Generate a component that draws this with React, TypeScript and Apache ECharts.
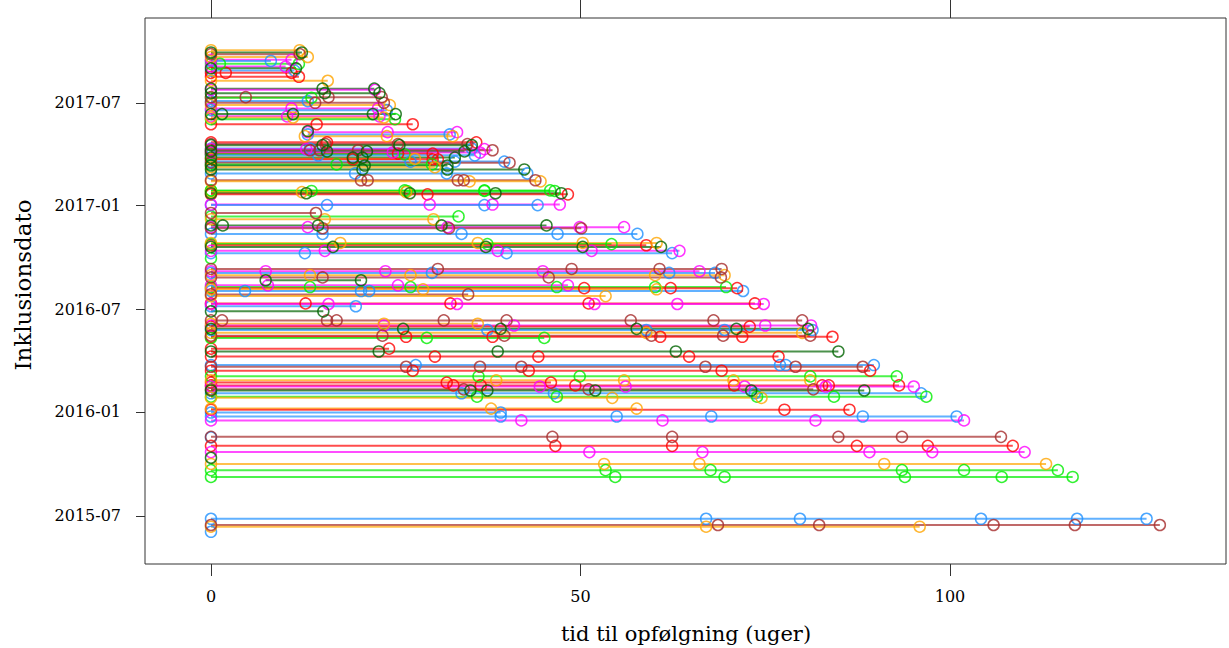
import React, { useEffect, useRef } from "react";
import * as echarts from "echarts";

// Inclusion date of each patient (y), colour group, and follow-up times in weeks (x)
const inclusionDates: string[] = [
  "2017-10-02", "2017-09-28", "2017-09-25", "2017-09-20", "2017-09-15", "2017-09-13", "2017-09-08", "2017-09-03",
  "2017-08-31", "2017-08-27", "2017-08-23", "2017-08-16", "2017-08-09", "2017-07-26", "2017-07-24", "2017-07-18",
  "2017-07-11", "2017-07-10", "2017-07-04", "2017-07-01", "2017-06-27", "2017-06-21", "2017-06-18", "2017-06-11",
  "2017-06-07", "2017-06-05", "2017-06-02", "2017-05-24", "2017-05-12", "2017-05-10", "2017-05-06", "2017-05-03",
  "2017-04-22", "2017-04-19", "2017-04-17", "2017-04-11", "2017-04-10", "2017-04-08", "2017-04-06", "2017-04-04",
  "2017-04-02", "2017-04-01", "2017-03-30", "2017-03-26", "2017-03-24", "2017-03-23", "2017-03-19", "2017-03-17",
  "2017-03-14", "2017-03-12", "2017-03-09", "2017-03-05", "2017-02-26", "2017-02-14", "2017-02-12", "2017-01-27",
  "2017-01-26", "2017-01-24", "2017-01-22", "2017-01-20", "2017-01-02", "2017-01-01", "2016-12-18", "2016-12-12",
  "2016-12-07", "2016-11-26", "2016-11-23", "2016-11-21", "2016-11-11", "2016-10-26", "2016-10-24", "2016-10-22",
  "2016-10-19", "2016-10-12", "2016-10-08", "2016-09-29", "2016-09-10", "2016-09-06", "2016-09-03", "2016-08-30",
  "2016-08-26", "2016-08-21", "2016-08-12", "2016-08-09", "2016-08-07", "2016-08-05", "2016-08-02", "2016-07-27",
  "2016-07-24", "2016-07-11", "2016-07-10", "2016-07-06", "2016-06-27", "2016-06-11", "2016-06-05", "2016-06-02",
  "2016-05-31", "2016-05-27", "2016-05-25", "2016-05-20", "2016-05-15", "2016-05-13", "2016-05-11", "2016-04-22",
  "2016-04-17", "2016-04-08", "2016-03-24", "2016-03-21", "2016-03-14", "2016-03-04", "2016-02-26", "2016-02-22",
  "2016-02-17", "2016-02-15", "2016-02-10", "2016-02-08", "2016-02-03", "2016-01-28", "2016-01-26", "2016-01-07",
  "2016-01-05", "2015-12-31", "2015-12-24", "2015-12-17", "2015-11-18", "2015-11-17", "2015-11-02", "2015-10-22",
  "2015-10-12", "2015-10-01", "2015-09-20", "2015-09-08", "2015-06-26", "2015-06-15", "2015-06-12", "2015-06-03",
];

const patientGroup: string[] = [
  "O", "DG", "BR", "O", "M", "B", "G", "M",
  "DG", "B", "R", "R", "O", "DG", "M", "DG",
  "BR", "G", "B", "BR", "O", "M", "B", "DG",
  "M", "O", "G", "R", "DG", "M", "B", "O",
  "R", "BR", "DG", "B", "M", "BR", "DG", "M",
  "R", "G", "B", "DG", "O", "R", "B", "BR",
  "G", "DG", "O", "DG", "B", "BR", "O", "G",
  "G", "O", "DG", "R", "M", "B", "BR", "G",
  "O", "DG", "M", "BR", "B", "O", "G", "R",
  "DG", "M", "B", "G", "BR", "M", "B", "O",
  "BR", "DG", "M", "G", "R", "O", "B", "BR",
  "O", "R", "M", "B", "DG", "BR", "O", "M",
  "R", "DG", "B", "O", "BR", "R", "G", "R",
  "DG", "R", "B", "BR", "R", "G", "O", "R",
  "R", "M", "BR", "DG", "B", "G", "O", "O",
  "R", "B", "B", "M", "BR", "B", "R", "M",
  "DG", "O", "G", "G", "B", "BR", "O", "B",
];

const followUpWeeks: number[][] = [
  [0, 12.0], [0, 12.3], [0, 12.0], [0, 13.1], [0, 10.9], [0, 8.1], [0, 1.2, 11.9], [0, 10.1],
  [0, 11.5], [0, 11.3], [0, 2.0, 10.9], [0, 11.9], [0, 15.8], [0, 15.1, 22.1], [0, 22.2], [0, 15.4, 22.8],
  [0, 4.7, 15.9, 23.1], [0, 13.6], [0, 13.1], [0, 14.1, 23.4], [0, 24.2], [0, 10.9, 22.6], [0, 23.8], [0, 1.5, 11.1, 21.9, 25.0],
  [0, 10.3, 22.8], [0, 11.1, 23.4], [0, 24.9], [0, 14.3, 27.3], [13.1], [13.1, 23.9, 33.3], [13.1, 32.3], [12.7, 23.8, 32.7],
  [0, 15.7, 35.9], [0, 15.5, 25.3, 34.7], [0, 15.1, 25.5, 35.3], [0, 13.4, 35.3], [0, 12.9, 37.0], [0, 13.4, 14.7, 19.9, 38.1], [0, 15.7, 21.1, 34.3], [0, 24.6, 36.4],
  [0, 25.3, 30.0], [0, 26.2], [0, 14.5, 35.7], [0, 19.2, 20.5, 33.0], [0, 27.6], [0, 19.2, 30.0, 30.7], [0, 27.0, 33.0, 39.7], [0, 40.4],
  [0, 17.0, 29.9], [0, 20.8, 32.0], [0, 30.3], [0, 20.5, 32.0, 42.4], [0, 19.5, 31.9, 42.8], [0, 20.3, 21.2, 33.4, 34.2, 43.9], [0, 35.0, 44.6], [0, 26.2, 37.0, 45.9],
  [0, 13.6, 26.5, 37.0, 46.5], [0, 12.3, 26.4], [0, 12.9, 26.9, 38.5, 47.4], [0, 29.3, 48.3], [0, 29.6, 38.1, 47.2], [0, 15.7, 37.0, 44.2], [0, 14.2], [0, 33.5],
  [0, 15.4, 30.1], [0, 1.6, 14.5, 31.2, 45.4], [0, 13.1, 32.0, 49.9, 55.9], [0, 15.1, 32.2, 50.1], [0, 15.1, 33.9, 46.9, 57.7], [0, 17.5, 36.1, 50.3, 60.3], [0, 37.4, 54.2], [0, 58.9],
  [0, 16.5, 37.2, 50.3, 60.9], [0, 15.4, 38.8, 51.5, 63.4], [0, 12.7, 40.0, 62.4], [0], [0, 30.7, 48.8, 60.7, 69.1], [0, 7.4, 23.6, 44.9, 66.1], [0, 29.9, 62.0, 68.2], [0, 13.4, 27.0, 60.1, 69.5],
  [0, 15.1, 45.7, 69.0], [7.4, 20.3], [0, 7.7, 25.3, 48.3], [0, 13.4, 27.0, 46.8, 60.1, 69.7], [0, 50.5, 62.2, 71.2], [0, 28.7, 60.3], [0, 4.6, 20.3, 21.4, 72.0], [0, 34.8],
  [0, 53.4], [0, 12.8, 32.4, 51.1, 73.6], [0, 15.9, 33.3, 51.9, 63.1, 74.8], [0, 19.6], [0, 15.2], [0, 1.5, 15.7, 17.0, 31.5, 40.0, 56.8, 68.0, 80.0], [0, 23.4, 36.1], [0, 23.4, 41.0, 75.0, 81.2],
  [0, 72.9], [0, 26.0, 39.2, 57.6, 71.1, 80.8], [0, 37.4, 58.9, 69.5, 81.4], [0, 58.9, 80.0], [0, 23.2, 39.7, 59.6, 69.3, 81.1], [0, 26.4, 38.1, 60.8, 71.9, 84.1], [0, 29.2, 45.1], [0, 24.1],
  [0, 22.7, 38.8, 62.9, 84.9], [0, 30.3, 44.3, 64.7, 76.8], [0, 27.7, 77.0, 77.8, 89.7], [0, 26.4, 36.4, 42.0, 66.9, 79.1, 88.2], [0, 27.3, 43.0, 69.1, 89.2], [0, 36.2, 49.9, 81.1, 92.8], [0, 38.6, 55.9, 70.7, 81.1], [0, 31.9, 46.0],
  [0, 32.8, 36.5, 49.3, 70.8, 82.7, 83.6, 93.1], [0, 44.5, 56.1, 72.2, 83.2, 95.1], [0, 34.2, 51.1, 81.5], [0, 35.1, 37.4, 52.0, 73.1, 88.4], [0, 33.9, 46.4, 73.6, 96.1], [0, 36.0, 46.8, 73.9, 84.3, 96.8], [0, 54.3, 74.5], [0, 37.9, 57.6],
  [0, 77.6, 86.4], [0, 39.2], [0, 39.2, 54.9, 67.7, 88.2, 100.9], [0, 42.0, 61.1, 81.8, 101.9], [0, 46.2, 62.4, 84.9, 93.5, 106.9], [0], [0, 46.6, 62.4, 87.4, 97.0, 108.5], [0, 51.2, 66.5, 89.1, 97.6, 110.1],
  [0], [0, 53.2, 66.1, 91.1, 113.0], [0, 53.4, 67.6, 93.5, 101.9, 114.6], [0, 54.7, 69.5, 93.9, 107.0, 116.6], [0, 67.0, 79.7, 104.2, 117.2, 126.6], [0, 68.6, 82.3, 105.9, 116.9, 128.4], [0, 67.0, 95.9], [0],
];

const xTickValues = [0, 50, 100];
const yTickLabels = ["2015-07", "2016-01", "2016-07", "2017-01", "2017-07"];
const xTitle = "tid til opfølgning (uger)";
const yTitle = "Inklusionsdato";

const groupColors: Record<string, string> = {
  B: "#1E90FF",
  R: "#FF0000",
  G: "#00EE00",
  M: "#FF00FF",
  O: "#FFA500",
  BR: "#A52A2A",
  DG: "#006400",
};

const toTs = (s: string) => Date.parse((s.length === 7 ? s + "-01" : s) + "T00:00:00Z");
const FONT = "'DejaVu Serif', serif";

export default function App() {
  const ref = useRef<HTMLDivElement>(null);

  useEffect(() => {
    if (!ref.current) return;
    const chart = echarts.init(ref.current, null, { renderer: "svg" });

    const lineData = inclusionDates.map((d, i) => {
      const w = followUpWeeks[i];
      return [Math.min(...w), Math.max(...w), toTs(d), i];
    });

    const groups = Object.keys(groupColors);
    const scatterSeries = groups.map((g) => {
      const pts: number[][] = [];
      inclusionDates.forEach((d, i) => {
        if (patientGroup[i] !== g) return;
        followUpWeeks[i].forEach((w) => pts.push([w, toTs(d)]));
      });
      return {
        type: "scatter",
        name: g,
        data: pts,
        symbol: "circle",
        symbolSize: 11,
        z: 3,
        itemStyle: { color: "rgba(255,255,255,0)", borderColor: groupColors[g], borderWidth: 1.5 },
        emphasis: { disabled: true },
      };
    });

    const yTickTs = yTickLabels.map(toTs);
    const xMin = -8.93;
    const xMax = 137.35;

    chart.setOption({
      animation: false,
      grid: {
        left: 145,
        right: 3,
        top: 18,
        bottom: 84,
        show: true,
        borderColor: "#333",
        borderWidth: 1,
        backgroundColor: "#fff",
      },
      xAxis: [
        {
          type: "value",
          position: "bottom",
          min: xMin,
          max: xMax,
          axisLine: { show: false, onZero: false },
          splitLine: { show: false },
          axisTick: { show: true, length: 12, lineStyle: { color: "#333" }, customValues: xTickValues },
          axisLabel: {
            show: true,
            customValues: xTickValues,
            margin: 24,
            color: "#000",
            fontFamily: FONT,
            fontSize: 16,
          },
        },
        {
          type: "value",
          position: "top",
          min: xMin,
          max: xMax,
          axisLine: { show: false, onZero: false },
          splitLine: { show: false },
          axisTick: { show: true, length: 18, lineStyle: { color: "#333" }, customValues: xTickValues },
          axisLabel: { show: false },
        },
      ],
      yAxis: {
        type: "value",
        position: "left",
        min: toTs("2015-04-07"),
        max: toTs("2017-11-28"),
        axisLine: { show: false, onZero: false },
        splitLine: { show: false },
        axisTick: { show: true, length: 9, lineStyle: { color: "#333" }, customValues: yTickTs },
        axisLabel: {
          show: true,
          customValues: yTickTs,
          margin: 24,
          color: "#000",
          fontFamily: FONT,
          fontSize: 16,
          formatter: (v: number) => {
            const d = new Date(v);
            return `${d.getUTCFullYear()}-${String(d.getUTCMonth() + 1).padStart(2, "0")}`;
          },
        },
      },
      series: [
        {
          type: "custom",
          data: lineData,
          encode: { x: [0, 1], y: 2 },
          clip: true,
          z: 2,
          renderItem: (params: any, api: any) => {
            const y = api.value(2);
            const p1 = api.coord([api.value(0), y]);
            const p2 = api.coord([api.value(1), y]);
            const g = patientGroup[api.value(3)];
            return {
              type: "line",
              shape: { x1: p1[0], y1: p1[1], x2: p2[0], y2: p2[1] },
              style: { stroke: groupColors[g], lineWidth: 2, opacity: 0.7 },
            };
          },
        },
        ...scatterSeries,
      ],
      graphic: [
        {
          type: "text",
          x: 686,
          y: 634,
          style: {
            text: xTitle,
            align: "center",
            verticalAlign: "middle",
            fontFamily: FONT,
            fontSize: 21,
            fill: "#000",
          },
        },
        {
          type: "text",
          x: 23,
          y: 285,
          rotation: Math.PI / 2,
          style: {
            text: yTitle,
            align: "center",
            verticalAlign: "middle",
            fontFamily: FONT,
            fontSize: 23,
            fill: "#000",
          },
        },
      ],
    });

    return () => chart.dispose();
  }, []);

  return (
    <div
      ref={ref}
      style={{ position: "absolute", left: 0, top: 0, width: 1229, height: 648, background: "#fff" }}
    />
  );
}
